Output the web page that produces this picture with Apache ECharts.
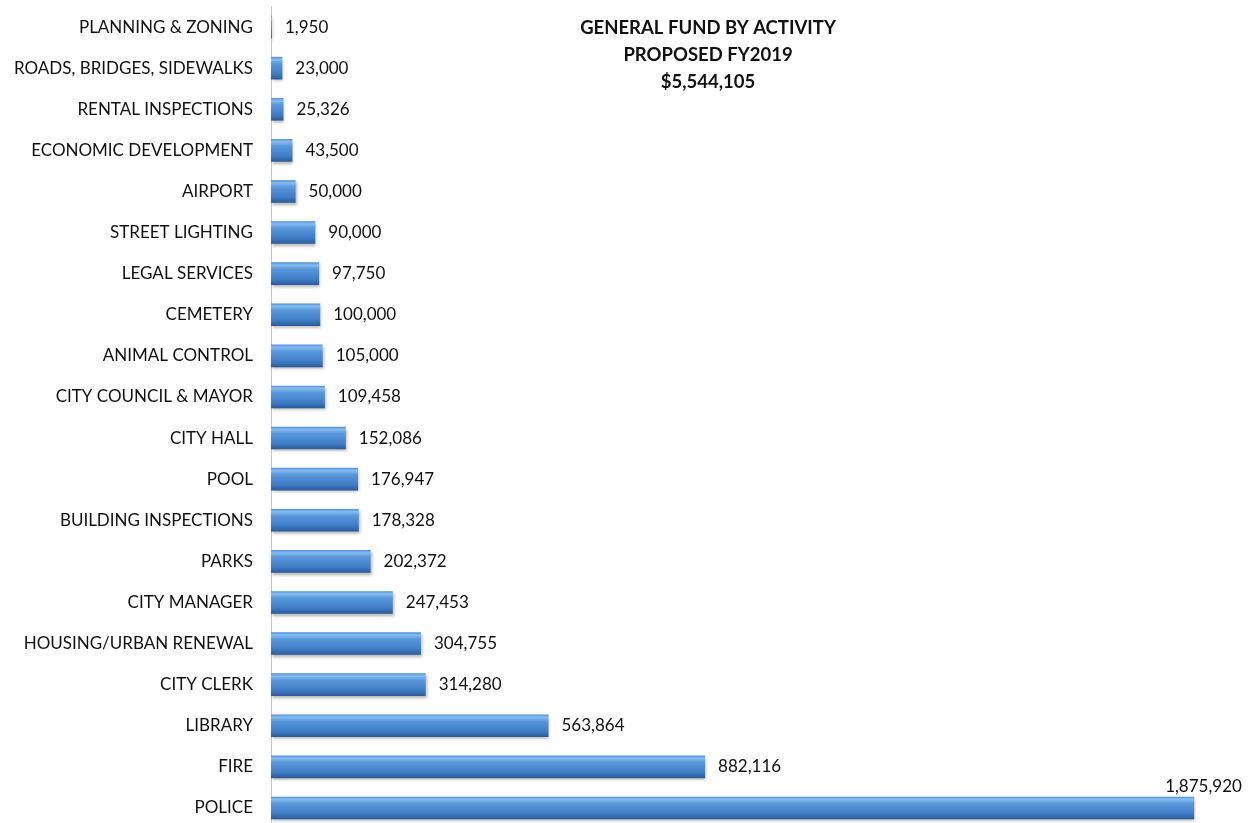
<!DOCTYPE html>
<html><head><meta charset="utf-8">
<script src="https://cdn.jsdelivr.net/npm/echarts@6/dist/echarts.min.js"></script>
<style>html,body{margin:0;padding:0;background:#fff}#c{width:1251px;height:823px}</style>
</head><body><div id="c"></div>
<script>
const categories = ["PLANNING & ZONING","ROADS, BRIDGES, SIDEWALKS","RENTAL INSPECTIONS","ECONOMIC DEVELOPMENT","AIRPORT","STREET LIGHTING","LEGAL SERVICES","CEMETERY","ANIMAL CONTROL","CITY COUNCIL & MAYOR","CITY HALL","POOL","BUILDING INSPECTIONS","PARKS","CITY MANAGER","HOUSING/URBAN RENEWAL","CITY CLERK","LIBRARY","FIRE","POLICE"];
const values = [1950,23000,25326,43500,50000,90000,97750,100000,105000,109458,152086,176947,178328,202372,247453,304755,314280,563864,882116,1875920];
const titleLines = ["GENERAL FUND BY ACTIVITY","PROPOSED FY2019","$5,544,105"];

const font = "Lato, 'Open Sans', sans-serif";
const fmt = v => v.toLocaleString('en-US');
const chart = echarts.init(document.getElementById('c'), null, {renderer:'canvas'});
const barColor = new echarts.graphic.LinearGradient(0,0,0,1,[
  {offset:0,color:'#4f8fd8'},
  {offset:0.12,color:'#86bdf0'},
  {offset:0.3,color:'#5a98dc'},
  {offset:0.75,color:'#3f7cc6'},
  {offset:1,color:'#2b5a98'}
]);
const data = values.map((v,i)=>{
  const d = {value:v};
  if (i === values.length-1) {
    d.label = {position:'right', offset:[-42,-21]};
  }
  return d;
});
chart.setOption({
  animation:false,
  title:{
    text: titleLines.join('\n'),
    left: 703, top: 10, textAlign:'center',
    textStyle:{fontFamily:font, fontWeight:'bold', fontSize:18.5, color:'#111', lineHeight:27}
  },
  grid:{left:271, top:6.5, right:45, height:822, containLabel:false, outerBoundsMode:'none'},
  xAxis:{type:'value', min:0, max:1900000, show:false},
  yAxis:{type:'category', data:categories, inverse:true,
    axisLine:{show:true, lineStyle:{color:'#c8c8c8', width:1}},
    axisTick:{show:false},
    axisLabel:{fontFamily:font, fontSize:17, color:'#111', margin:18}
  },
  series:[{
    type:'bar', data:data, barWidth:'55%',
    itemStyle:{color:barColor, shadowColor:'rgba(0,0,0,0.3)', shadowBlur:3, shadowOffsetY:2, shadowOffsetX:1},
    label:{show:true, position:'right', distance:13, fontFamily:font, fontSize:17, color:'#111',
      formatter: p => fmt(p.value)}
  }]
});
</script></body></html>
